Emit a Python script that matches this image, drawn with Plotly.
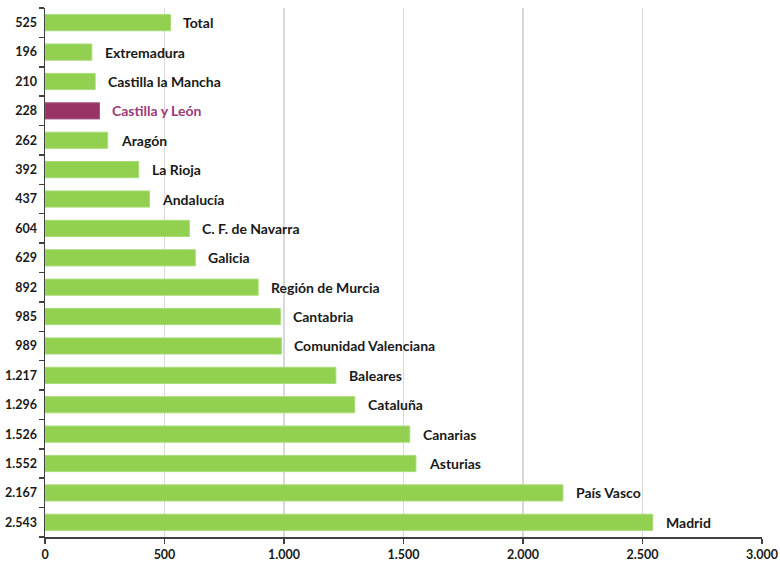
import plotly.graph_objects as go

regions = ["Madrid", "País Vasco", "Asturias", "Canarias", "Cataluña", "Baleares",
           "Comunidad Valenciana", "Cantabria", "Región de Murcia", "Galicia",
           "C. F. de Navarra", "Andalucía", "La Rioja", "Aragón", "Castilla y León",
           "Castilla la Mancha", "Extremadura", "Total"]
values = [2543, 2167, 1552, 1526, 1296, 1217, 989, 985, 892, 629, 604, 437, 392, 262,
          228, 210, 196, 525]
highlight = "Castilla y León"

GREEN = "#92D050"
PURPLE = "#993366"
LABEL_PURPLE = "#9E3A78"
FONT = "Lato"

def fmt(v):
    return f"{v:,}".replace(",", ".")

colors = [PURPLE if r == highlight else GREEN for r in regions]
edge = ["#A8567F" if r == highlight else "#A9DC77" for r in regions]

fig = go.Figure()
fig.add_trace(go.Bar(
    x=values, y=regions, orientation="h",
    marker=dict(color=colors, line=dict(color=edge, width=1)),
    width=0.55, hoverinfo="skip",
))

for r, v in zip(regions, values):
    fig.add_annotation(
        x=v, y=r, text=f"<b>{r}</b>", showarrow=False, xanchor="left",
        xshift=11, font=dict(family=FONT, size=14,
                             color=LABEL_PURPLE if r == highlight else "#1a1a1a"),
    )

fig.update_layout(
    width=780, height=566,
    margin=dict(l=45, r=18, t=8, b=29),
    plot_bgcolor="white", paper_bgcolor="white",
    showlegend=False,
    separators=",.",
    font=dict(family=FONT, size=12, color="#1a1a1a"),
)
fig.update_xaxes(
    range=[0, 3000], dtick=500, tick0=0, tickformat=",d", separatethousands=True,
    showgrid=True, gridcolor="#D9D9D9", gridwidth=1.5,
    showline=True, linecolor="#404040", linewidth=1.5,
    ticks="outside", ticklen=5, tickcolor="#404040", tickwidth=1.5,
    tickfont=dict(family=FONT, size=12.5, color="#1a1a1a", weight="bold"),
    zeroline=False, fixedrange=True, automargin=False,
)
fig.update_yaxes(
    type="category", categoryorder="array", categoryarray=regions,
    tickmode="array", tickvals=regions, ticktext=[fmt(v) for v in values],
    tickson="boundaries",
    showline=True, linecolor="#404040", linewidth=1.5,
    ticks="outside", ticklen=5, tickcolor="#404040", tickwidth=1.5,
    tickfont=dict(family=FONT, size=12.5, color="#1a1a1a", weight="bold"),
    showgrid=False, fixedrange=True, ticklabelstandoff=4, automargin=False,
)

fig.write_html(
    "out.html",
    config={"displayModeBar": False, "staticPlot": True},
    post_script="document.body.style.margin='0';document.body.style.overflow='hidden';",
)
